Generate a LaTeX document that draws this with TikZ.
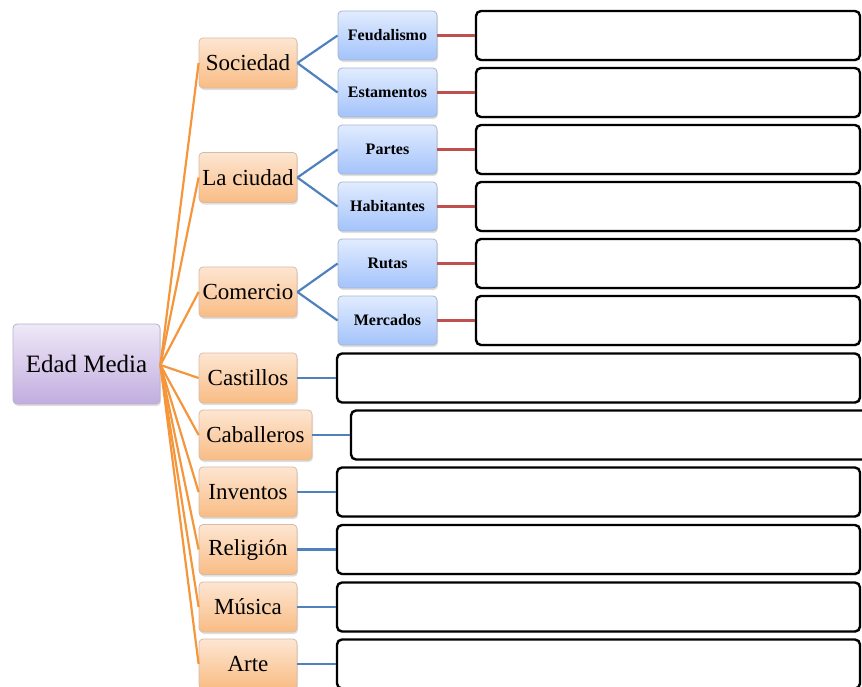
\documentclass[tikz,border=0pt]{standalone}
\usepackage{fontspec}
\setmainfont{Liberation Serif}
\usetikzlibrary{shadows}
\definecolor{orTop}{HTML}{FDE6D2}
\definecolor{orBot}{HTML}{F9BC84}
\definecolor{orEdge}{HTML}{D8BBA6}
\definecolor{blTop}{HTML}{E1ECFE}
\definecolor{blBot}{HTML}{A3C3FB}
\definecolor{blEdge}{HTML}{A8B6CC}
\definecolor{puTop}{HTML}{EEE8F7}
\definecolor{puBot}{HTML}{C2ADDF}
\definecolor{puEdge}{HTML}{B9B1C7}
\definecolor{orLine}{HTML}{F5963C}
\definecolor{blLine}{HTML}{4F81BD}
\definecolor{rdLine}{HTML}{C0504D}
\tikzset{
  base/.style={rounded corners=4pt, inner sep=0pt, align=center,
    drop shadow={shadow xshift=1pt, shadow yshift=-2pt, opacity=0.25}},
  rootbox/.style={base, draw=puEdge, line width=0.8pt, top color=puTop, bottom color=puBot,
    minimum width=147pt, minimum height=80pt, font=\fontsize{25}{28}\selectfont},
  catbox/.style={base, draw=orEdge, line width=0.8pt, top color=orTop, bottom color=orBot,
    minimum width=98pt, minimum height=50pt, font=\fontsize{23}{26}\selectfont},
  subbox/.style={base, draw=blEdge, line width=0.8pt, top color=blTop, bottom color=blBot,
    minimum width=99pt, minimum height=49pt, font=\bfseries\fontsize{16}{18}\selectfont},
  answerbox/.style={draw=black, line width=2.4pt, rounded corners=5pt, fill=white,
    inner sep=0pt, minimum height=49pt,
    drop shadow={shadow xshift=1pt, shadow yshift=-1.5pt, opacity=0.2}},
  orline/.style={draw=orLine, line width=2.2pt},
  blline/.style={draw=blLine, line width=2.2pt},
  rdline/.style={draw=rdLine, line width=2.2pt},
}
\begin{document}
\begin{tikzpicture}[x=1pt,y=-1pt]
\useasboundingbox (0,0) rectangle (862,686);

% answer boxes (upper)
\node[answerbox, minimum width=384pt] (aF) at (668,35.5) {};
\node[answerbox, minimum width=384pt] (aE) at (668,92.5) {};
\node[answerbox, minimum width=384pt] (aP) at (668,149.5) {};
\node[answerbox, minimum width=384pt] (aH) at (668,206.5) {};
\node[answerbox, minimum width=384pt] (aR) at (668,263.5) {};
\node[answerbox, minimum width=384pt] (aM) at (668,320.5) {};
% answer boxes (lower)
\node[answerbox, minimum width=523pt] (aCa) at (598.5,378) {};
\node[answerbox, minimum width=524pt] (aCb) at (613,435) {};
\node[answerbox, minimum width=523pt] (aI) at (598.5,492) {};
\node[answerbox, minimum width=523pt] (aRe) at (598.5,549.5) {};
\node[answerbox, minimum width=523pt] (aMu) at (598.5,607) {};
\node[answerbox, minimum width=523pt] (aAr) at (598.5,664) {};

% root
\node[rootbox] (edad) at (86.5,364) {Edad Media};

% categories
\node[catbox] (soc) at (248,63) {Sociedad};
\node[catbox] (ciu) at (248,177.5) {La ciudad};
\node[catbox] (com) at (248,292) {Comercio};
\node[catbox] (cas) at (248,378) {Castillos};
\node[catbox, minimum width=113pt] (cab) at (255.5,435) {Caballeros};
\node[catbox] (inv) at (248,492) {Inventos};
\node[catbox] (rel) at (248,549.5) {Religión};
\node[catbox] (mus) at (248,607) {Música};
\node[catbox] (art) at (248,664) {Arte};

% subtopics
\node[subbox] (feu) at (387.5,35.5) {Feudalismo};
\node[subbox] (est) at (387.5,92.5) {Estamentos};
\node[subbox] (par) at (387.5,149.5) {Partes};
\node[subbox] (hab) at (387.5,206.5) {Habitantes};
\node[subbox] (rut) at (387.5,263.5) {Rutas};
\node[subbox] (mer) at (387.5,320.5) {Mercados};

% connectors root -> categories
\coordinate (hub) at ([yshift=-1pt]edad.east);
\foreach \n in {soc,ciu,com,cas,cab,inv,rel,mus,art}
  \draw[orline] (hub) -- (\n.west);

% categories -> subtopics
\draw[blline] (soc.east) -- (feu.west);
\draw[blline] (soc.east) -- (est.west);
\draw[blline] (ciu.east) -- (par.west);
\draw[blline] (ciu.east) -- (hab.west);
\draw[blline] (com.east) -- (rut.west);
\draw[blline] (com.east) -- (mer.west);

% subtopics -> answer boxes
\draw[rdline] (feu.east) -- (aF.west);
\draw[rdline] (est.east) -- (aE.west);
\draw[rdline] (par.east) -- (aP.west);
\draw[rdline] (hab.east) -- (aH.west);
\draw[rdline] (rut.east) -- (aR.west);
\draw[rdline] (mer.east) -- (aM.west);

% categories -> answer boxes
\draw[blline] (cas.east) -- (aCa.west);
\draw[blline] (cab.east) -- (aCb.west);
\draw[blline] (inv.east) -- (aI.west);
\draw[blline] (rel.east) -- (aRe.west);
\draw[blline] (mus.east) -- (aMu.west);
\draw[blline] (art.east) -- (aAr.west);
\end{tikzpicture}
\end{document}
